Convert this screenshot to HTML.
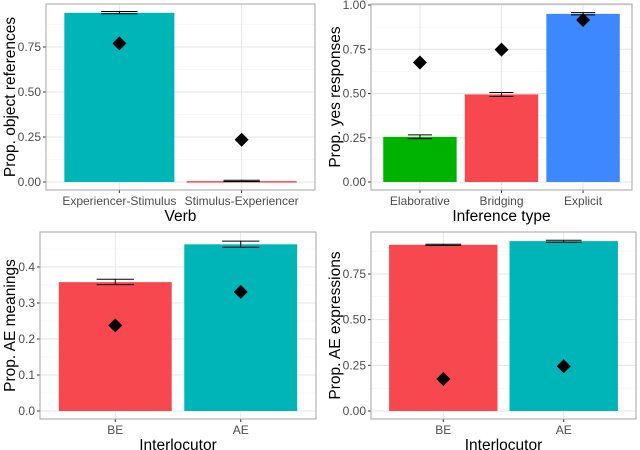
<!DOCTYPE html>
<html><head><meta charset="utf-8"><style>
body{margin:0;background:#fff;width:640px;height:450px;overflow:hidden}
svg{display:block;font-family:"Liberation Sans",sans-serif}
</style></head><body>
<svg id="c" width="640" height="450"></svg>
<script>
const p1Cats=["Experiencer-Stimulus","Stimulus-Experiencer"];
const p1Vals=[0.94,0.005];
const p1Lo=[0.935,0.003];
const p1Hi=[0.947,0.01];
const p1Pts=[0.77,0.235];
const p1Ticks=[0,0.25,0.5,0.75];
const p2Cats=["Elaborative","Bridging","Explicit"];
const p2Vals=[0.255,0.495,0.95];
const p2Lo=[0.245,0.484,0.944];
const p2Hi=[0.266,0.506,0.957];
const p2Pts=[0.675,0.748,0.915];
const p2Ticks=[0,0.25,0.5,0.75,1.0];
const p3Cats=["BE","AE"];
const p3Vals=[0.358,0.463];
const p3Lo=[0.351,0.455];
const p3Hi=[0.366,0.472];
const p3Pts=[0.238,0.331];
const p3Ticks=[0,0.1,0.2,0.3,0.4];
const p4Cats=["BE","AE"];
const p4Vals=[0.91,0.93];
const p4Lo=[0.906,0.924];
const p4Hi=[0.913,0.935];
const p4Pts=[0.175,0.245];
const p4Ticks=[0,0.25,0.5,0.75];
const NS="http://www.w3.org/2000/svg";
const svg=document.getElementById('c');
function mk(t,a,parent){const e=document.createElementNS(NS,t);for(const k in a)e.setAttribute(k,a[k]);(parent||svg).appendChild(e);return e;}
function panel(cfg){
 const g=mk('g',{});
 
 
 const {x0,x1,yt,yb,y0,yRef,vRef,cats,vals,lo,hi,pts,ticks,colors,dec,ytitle,xtitle}=cfg;
 const sy=v=>y0-(y0-yRef)*v/vRef;
 const n=cats.length, step=(x1-x0)/(n+0.2), bw=step*0.9;
 const cx=i=>x0+step*0.6+step*i;
 mk('rect',{x:x0,y:yt,width:x1-x0,height:yb-yt,fill:'#fff'},g);
 const minorStep=(ticks[1]-ticks[0])/2;
 for(let v=ticks[0]-minorStep;sy(v)>yt;v+=minorStep){const yy=sy(v);if(yy<yb)mk('line',{x1:x0,x2:x1,y1:yy,y2:yy,stroke:'#f2f2f2','stroke-width':0.6},g);}
 ticks.forEach(v=>{const yy=sy(v);mk('line',{x1:x0,x2:x1,y1:yy,y2:yy,stroke:'#e6e6e6','stroke-width':1},g);
  mk('line',{x1:x0-3,x2:x0,y1:yy,y2:yy,stroke:'#333','stroke-width':1},g);
  const t=mk('text',{x:x0-5,y:yy+4,'text-anchor':'end','font-size':12,fill:'#4d4d4d'},g);t.textContent=v.toFixed(dec);
  
  });
 cats.forEach((c,i)=>{mk('line',{x1:cx(i),x2:cx(i),y1:yt,y2:yb,stroke:'#e6e6e6','stroke-width':1},g);});
 cats.forEach((c,i)=>{
  const top=sy(vals[i]);
  const r=mk('rect',{x:cx(i)-bw/2,y:top,width:bw,height:Math.max(1.5,y0-top),fill:colors[i]},g);
  
  
  const ew=bw*0.33;
  mk('line',{x1:cx(i),x2:cx(i),y1:sy(lo[i]),y2:sy(hi[i]),stroke:'#000','stroke-width':1},g);
  mk('line',{x1:cx(i)-ew/2,x2:cx(i)+ew/2,y1:sy(lo[i]),y2:sy(lo[i]),stroke:'#000','stroke-width':1},g);
  mk('line',{x1:cx(i)-ew/2,x2:cx(i)+ew/2,y1:sy(hi[i]),y2:sy(hi[i]),stroke:'#000','stroke-width':1},g);
  const py=sy(pts[i]),s=7;
  const d=mk('polygon',{points:`${cx(i)},${py-s} ${cx(i)+s},${py} ${cx(i)},${py+s} ${cx(i)-s},${py}`,fill:'#000'},g);
  
  
  mk('line',{x1:cx(i),x2:cx(i),y1:yb,y2:yb+3,stroke:'#333','stroke-width':1},g);
  const t=mk('text',{x:cx(i),y:yb+15,'text-anchor':'middle','font-size':12,fill:'#4d4d4d'},g);t.textContent=c;
  
  
 });
 mk('rect',{x:x0,y:yt,width:x1-x0,height:yb-yt,fill:'none',stroke:'#a6a6a6','stroke-width':1},g);
 const xt=mk('text',{x:(x0+x1)/2,y:yb+31,'text-anchor':'middle','font-size':15.5,fill:'#000'},g);xt.textContent=xtitle;
 
 
 const ymid=(yt+yb)/2;
 const yt2=mk('text',{x:cfg.ytx,y:ymid,'text-anchor':'middle','font-size':15.5,fill:'#000',transform:`rotate(-90 ${cfg.ytx} ${ymid})`},g);yt2.textContent=ytitle;
 
 
}
const TEAL='#00b5b8',RED='#f8484f',GREEN='#00b200',BLUE='#3d87ff';
panel({name:'panel-verb',x0:46,x1:315,yt:4,yb:190,y0:182,yRef:47,vRef:0.75,cats:p1Cats,vals:p1Vals,lo:p1Lo,hi:p1Hi,pts:p1Pts,ticks:p1Ticks,colors:[TEAL,RED],dec:2,ytitle:'Prop. object references',xtitle:'Verb',ytx:15});
panel({name:'panel-inference',x0:371,x1:632,yt:4,yb:190,y0:182,yRef:5,vRef:1.0,cats:p2Cats,vals:p2Vals,lo:p2Lo,hi:p2Hi,pts:p2Pts,ticks:p2Ticks,colors:[GREEN,RED,BLUE],dec:2,ytitle:'Prop. yes responses',xtitle:'Inference type',ytx:340});
panel({name:'panel-ae-meanings',x0:40,x1:316,yt:232,yb:419,y0:411,yRef:267,vRef:0.4,cats:p3Cats,vals:p3Vals,lo:p3Lo,hi:p3Hi,pts:p3Pts,ticks:p3Ticks,colors:[RED,TEAL],dec:1,ytitle:'Prop. AE meanings',xtitle:'Interlocutor',ytx:15});
panel({name:'panel-ae-expressions',x0:371,x1:636,yt:232,yb:419,y0:411,yRef:274,vRef:0.75,cats:p4Cats,vals:p4Vals,lo:p4Lo,hi:p4Hi,pts:p4Pts,ticks:p4Ticks,colors:[RED,TEAL],dec:2,ytitle:'Prop. AE expressions',xtitle:'Interlocutor',ytx:340});
</script>
</body></html>
